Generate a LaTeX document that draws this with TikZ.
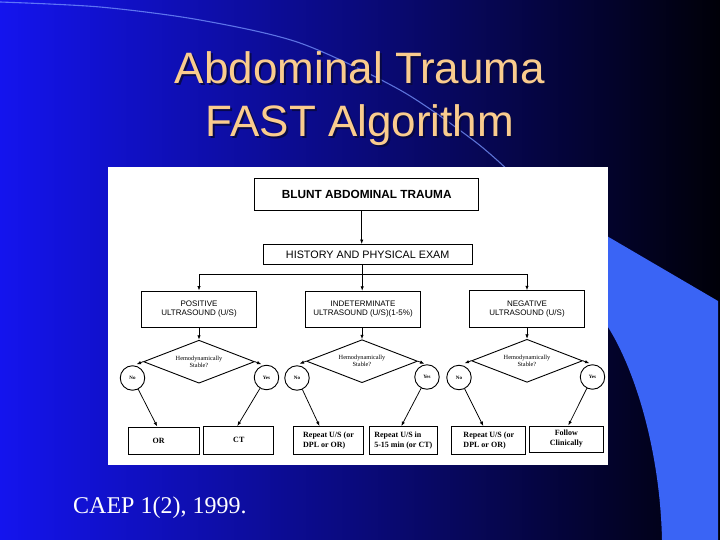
\documentclass[tikz,border=0pt]{standalone}
\usepackage{fontspec}
\setmainfont{Liberation Serif}
\newfontfamily\arialf{Liberation Sans}
\usetikzlibrary{arrows.meta,shapes.geometric,calc}
\definecolor{bgL}{RGB}{20,20,238}
\definecolor{bgM}{RGB}{0,0,175}
\definecolor{bgR}{RGB}{0,0,8}
\definecolor{swoosh}{RGB}{58,100,245}
\definecolor{arcline}{RGB}{120,150,255}
\definecolor{titlec}{RGB}{250,204,142}
\definecolor{shadowc}{RGB}{8,8,60}
\begin{document}
\begin{tikzpicture}[x=1pt,y=-1pt,
  box/.style={draw=black, line width=0.95pt, fill=white, inner sep=0pt},
  topbox/.style={box, font=\arialf\bfseries\fontsize{11.8}{14}\selectfont},
  histbox/.style={box, font=\arialf\fontsize{10.8}{13}\selectfont},
  midbox/.style={box, minimum width=115pt, minimum height=36.5pt, align=center, font=\arialf\fontsize{8}{9}\selectfont},
  dia/.style={draw=black, line width=0.9pt, diamond, aspect=2.6, minimum width=111pt, minimum height=43pt, inner sep=0pt, align=center, font=\fontsize{6.3}{7}\selectfont},
  circ/.style={draw=black, line width=0.9pt, circle, minimum size=24.5pt, inner sep=0pt, font=\bfseries\fontsize{5}{6}\selectfont},
  botbox/.style={box, minimum height=27.5pt, align=left, font=\bfseries\fontsize{8}{10}\selectfont},
  arr/.style={-{Latex[length=4.5pt,width=3.4pt]}, line width=0.75pt, draw=black},
  plain/.style={line width=0.75pt, draw=black},
  titletext/.style={font=\arialf\fontsize{44}{53}\selectfont, inner sep=0pt, anchor=base}
]
\useasboundingbox (0,0) rectangle (720,540);
% background
\shade[left color=bgL, middle color=bgM, right color=bgR] (0,0) rectangle (720,540);
\fill[swoosh] (600,232) -- (718,301) -- (718,540) -- (662,540)
  .. controls (660,450) and (635,370) .. (608,327) -- (600,315) -- cycle;
\draw[arcline, line width=1.1pt, opacity=0.75] plot[smooth] coordinates
  {(0,2) (100,7) (200,20) (300,43) (400,90) (473,140) (510,172)};
% title
\node[titletext, text=shadowc, opacity=0.85] (t1s) at (362,85.5) {Abdominal Trauma};
\node[titletext, text=shadowc, opacity=0.85] (t2s) at (362,139) {FAST Algorithm};
\node[titletext, text=titlec] (t1) at (360,83.5) {Abdominal Trauma};
\node[titletext, text=titlec] (t2) at (360,137) {FAST Algorithm};
% white image
\fill[white] (108,167) rectangle (608,465);
% flowchart
\node[topbox, minimum width=224pt, minimum height=32pt] (blunt) at (366.7,194.5) {BLUNT ABDOMINAL TRAUMA};
\node[histbox, minimum width=209pt, minimum height=20pt] (hist) at (367.7,254.5) {HISTORY AND PHYSICAL EXAM};
\coordinate (tA) at ([xshift=-5pt]blunt.south);
\draw[arr] (tA) -- (tA |- hist.north);

\node[midbox] (pos) at (199,309.3) {POSITIVE\\ULTRASOUND (U/S)};
\node[midbox] (ind) at (363,309.5) {INDETERMINATE\\ULTRASOUND (U/S)(1-5\%)};
\node[midbox] (neg) at (527,309) {NEGATIVE\\ULTRASOUND (U/S)};

\coordinate (tB) at ([xshift=-5.5pt]hist.south);
\coordinate (br) at ([yshift=-9pt]tB);
\draw[plain] (tB) -- (br);
\draw[arr] (br) -| (pos.north);
\draw[arr] (br) -| (neg.north);
\draw[arr] (br) -- (br |- ind.north);

\node[dia] (d1) at (199,361.7) {Hemodynamically\\Stable?};
\node[dia] (d2) at (362,361.2) {Hemodynamically\\Stable?};
\node[dia] (d3) at (527,360.8) {Hemodynamically\\Stable?};
\draw[arr] (pos.south) -- (d1.north);
\draw[arr] (ind.south -| d2.north) -- (d2.north);
\draw[arr] (neg.south -| d3.north) -- (d3.north);

\node[circ] (no1) at (132.5,378) {No};
\node[circ] (yes1) at (266.5,377.5) {Yes};
\node[circ] (no2) at (297,378) {No};
\node[circ] (yes2) at (427,377) {Yes};
\node[circ] (no3) at (459,377.5) {No};
\node[circ] (yes3) at (592.5,377) {Yes};

\foreach \d/\s in {d1/west,d1/east,d2/west,d2/east,d3/west,d3/east}
  \draw[arr] (\d.\s) -- ($(\d.\s)!-7pt!(\d.north)$);

\node[botbox, minimum width=71pt] (orb) at (164.2,440.8) {OR\hspace{11pt}};
\node[botbox, minimum width=70pt] (ctb) at (238.8,440.3) {CT};
\node[botbox, minimum width=70pt] (rep1) at (328.5,440.3) {Repeat U/S (or\\DPL or OR)};
\node[botbox, minimum width=68pt] (rep2) at (403.3,440.3) {Repeat U/S in\\5-15 min (or CT)};
\node[botbox, minimum width=74.3pt] (rep3) at (488.8,440.3) {Repeat U/S (or\\DPL or OR)};
\node[botbox, minimum width=74pt, minimum height=26pt, align=center] (fol) at (566.3,439) {Follow\\Clinically};

\draw[arr] (no1) -- ([xshift=-7pt]orb.north);
\draw[arr] (yes1) -- ([xshift=-1.5pt]ctb.north);
\draw[arr] (no2) -- ([xshift=-9pt]rep1.north);
\draw[arr] (yes2) -- ([xshift=-2pt]rep2.north);
\draw[arr] (no3) -- ([xshift=-5.5pt]rep3.north);
\draw[arr] (yes3) -- ([xshift=2pt]fol.north);

% footer
\node[anchor=base west, inner sep=0pt, text=white, font=\fontsize{24}{28}\selectfont] (foot) at (73,513) {CAEP 1(2), 1999.};
\end{tikzpicture}
\end{document}
